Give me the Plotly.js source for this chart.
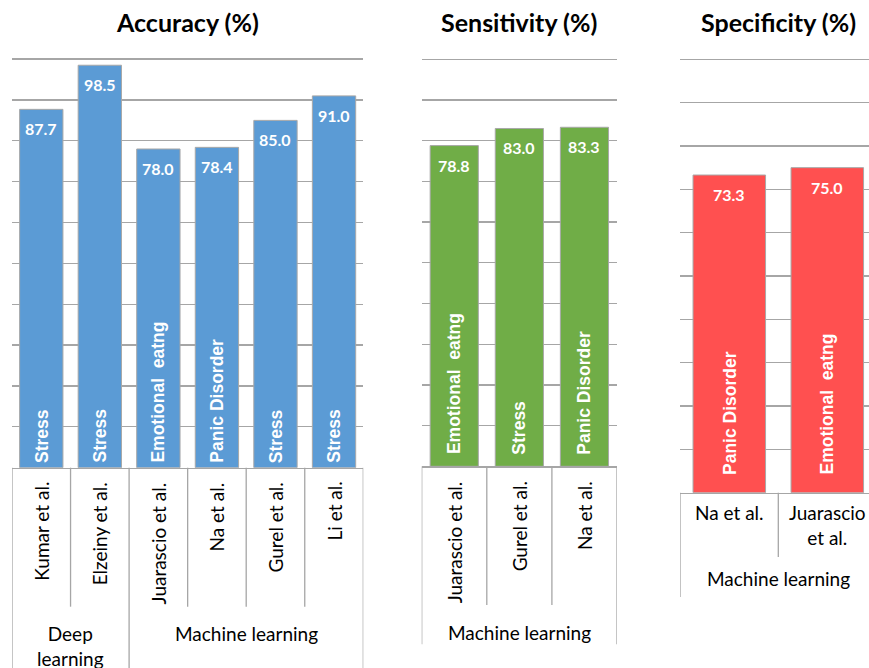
<!DOCTYPE html>
<html>
<head>
<meta charset="utf-8">
<script src="https://cdn.plot.ly/plotly-3.0.1.min.js"></script>
<style>html,body{margin:0;padding:0;background:#fff;}#chart{width:869px;height:668px;}</style>
</head>
<body>
<div id="chart"></div>
<script>
// ---- data ----
const accNames = ["Kumar et al.", "Elzeiny et al.", "Juarascio et al.", "Na et al.", "Gurel et al.", "Li et al."];
const accValues = [87.7, 98.5, 78.0, 78.4, 85.0, 91.0];
const accConditions = ["Stress", "Stress", "Emotional  eatng", "Panic Disorder", "Stress", "Stress"];
const accGroups = ["Deep learning", "Deep learning", "Machine learning", "Machine learning", "Machine learning", "Machine learning"];

const senNames = ["Juarascio et al.", "Gurel et al.", "Na et al."];
const senValues = [78.8, 83.0, 83.3];
const senConditions = ["Emotional  eatng", "Stress", "Panic Disorder"];
const senGroups = ["Machine learning", "Machine learning", "Machine learning"];

const speNames = ["Na et al.", "Juarascio et al."];
const speValues = [73.3, 75.0];
const speConditions = ["Panic Disorder", "Emotional  eatng"];
const speGroups = ["Machine learning", "Machine learning"];

const titles = ["Accuracy (%)", "Sensitivity (%)", "Specificity (%)"];

// ---- layout / styling ----
const W = 869, H = 668;
const py = p => (H - p) / H;
const TXT = "Lato, 'Open Sans', sans-serif";
const ARIAL = "'Liberation Sans', Arial, sans-serif";
const GRID = "#a6a6a6";
const YMAX = 100.4;

const panels = [
  {names: accNames, values: accValues, conds: accConditions, groups: accGroups, title: titles[0],
   color: "#5B9BD5", ax: "", x0: 12, x1: 363.3, base: 467.7, top: 59.1, clipRight: 0,
   condPad: 5, vertical: true, nameY: 480, innerBottom: 606.7, outerBottom: 668, groupY: 620},
  {names: senNames, values: senValues, conds: senConditions, groups: senGroups, title: titles[1],
   color: "#70AD47", ax: "2", x0: 421.7, x1: 617, base: 466.3, top: 59.3, clipRight: 0,
   condPad: 12, vertical: true, nameY: 479, innerBottom: 605, outerBottom: 644.3, groupY: 618.5},
  {names: speNames, values: speValues, conds: speConditions, groups: speGroups, title: titles[2],
   color: "#FF5050", ax: "3", x0: 680.3, x1: 869, base: 492.7, top: 59.3, clipRight: 7.3,
   condPad: 18, vertical: false, nameY: 499, innerBottom: 557, outerBottom: 597, groupY: 565}
];

const data = [];
const layout = {
  width: W, height: H, margin: {l: 0, r: 0, t: 0, b: 0},
  paper_bgcolor: "#fff", plot_bgcolor: "#fff", showlegend: false, bargap: 0.26,
  annotations: [], shapes: [], font: {family: TXT}
};

panels.forEach(p => {
  const n = p.names.length;
  const xa = "x" + p.ax, ya = "y" + p.ax;
  const catW = (p.x1 - p.x0 + p.clipRight) / n;
  const rangeMax = n - 0.5 - p.clipRight / catW;
  const topPx = p.base - (p.base - p.top) * YMAX / 100;
  data.push({
    type: "bar", x: p.names, y: p.values, xaxis: xa, yaxis: ya,
    marker: {color: p.color, line: {color: "#a8a8a8", width: 1}},
    hoverinfo: "skip"
  });
  layout["xaxis" + p.ax] = {
    domain: [p.x0 / W, p.x1 / W], anchor: ya, type: "category",
    range: [-0.5, rangeMax], showline: true, linecolor: GRID, linewidth: 1.3,
    showticklabels: false, ticks: "", showgrid: false, zeroline: false, fixedrange: true
  };
  layout["yaxis" + p.ax] = {
    domain: [py(p.base), py(topPx)], anchor: xa, range: [0, YMAX], dtick: 10, tick0: 0,
    showgrid: true, gridcolor: GRID, gridwidth: 1.3, showticklabels: false,
    ticks: "", zeroline: false, showline: false, fixedrange: true
  };
  // title
  layout.annotations.push({
    xref: xa, yref: "paper", x: (n - 1) / 2, y: py(22), yanchor: "middle", xanchor: "center",
    text: "<b>" + p.title + "</b>", showarrow: false,
    font: {family: TXT, size: 25, color: "#000"}
  });
  p.names.forEach((nm, i) => {
    // value label
    layout.annotations.push({
      xref: xa, yref: ya, x: nm, y: p.values[i], yanchor: "middle", yshift: -19.5,
      text: "<b>" + p.values[i].toFixed(1) + "</b>", showarrow: false,
      font: {family: TXT, size: 16, color: "#fff"}
    });
    // condition label inside bar
    layout.annotations.push({
      xref: xa, yref: ya, x: nm, y: 0, yanchor: "bottom", yshift: p.condPad - 2, textangle: -90,
      text: "<b>" + p.conds[i] + "</b>", showarrow: false,
      font: {family: ARIAL, size: 17.5, color: "#fff"}
    });
    // study label
    let t = nm;
    if (!p.vertical && nm.length > 10) t = nm.replace(" ", "<br>");
    layout.annotations.push({
      xref: xa, yref: "paper", x: nm, y: py(p.nameY), yanchor: "top",
      textangle: p.vertical ? -90 : 0, text: t, showarrow: false,
      font: {family: TXT, size: 19, color: "#000"}
    });
  });
  // group spans
  const spans = [];
  p.groups.forEach((g, i) => {
    if (spans.length && spans[spans.length - 1].g === g) spans[spans.length - 1].end = i;
    else spans.push({g: g, start: i, end: i});
  });
  // dividers
  const boundaries = new Set();
  spans.forEach(s => { boundaries.add(s.start - 0.5); boundaries.add(s.end + 0.5); });
  for (let i = 0; i <= n; i++) {
    const bx = i - 0.5;
    const outer = boundaries.has(bx);
    layout.shapes.push({
      type: "line", xref: xa, yref: "paper", x0: bx, x1: bx,
      y0: py(p.base), y1: py(outer ? p.outerBottom : p.innerBottom),
      line: {color: GRID, width: 1.3}
    });
  }
  spans.forEach(s => {
    const cnt = s.end - s.start + 1;
    const spanPx = cnt * catW;
    const txt = spanPx < 150 ? s.g.replace(" ", "<br>") : s.g;
    layout.annotations.push({
      xref: xa, yref: "paper", x: (s.start + s.end) / 2, y: py(p.groupY), yanchor: "top",
      text: txt, showarrow: false, font: {family: TXT, size: 19, color: "#000"}
    });
  });
});

Plotly.newPlot("chart", data, layout, {displayModeBar: false, staticPlot: true});
</script>
</body>
</html>
